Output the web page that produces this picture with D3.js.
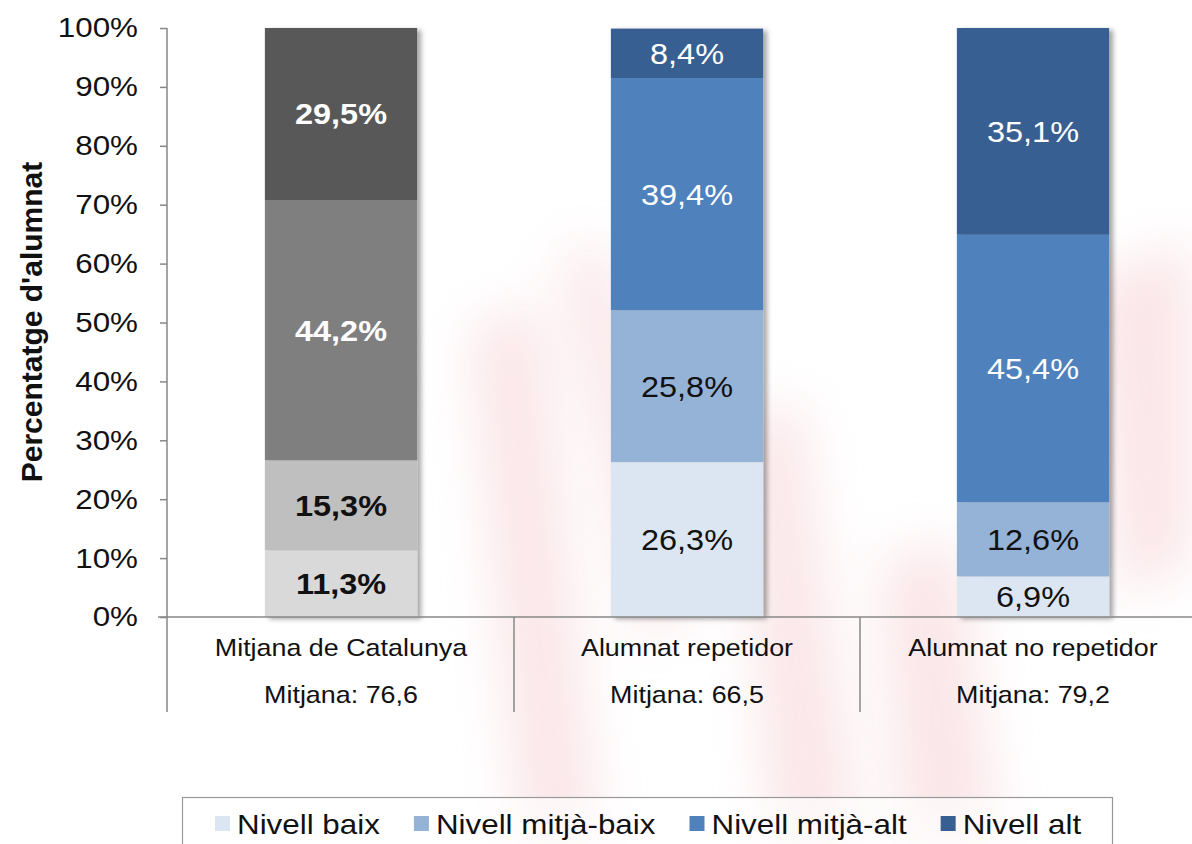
<!DOCTYPE html>
<html>
<head>
<meta charset="utf-8">
<script src="https://cdn.jsdelivr.net/npm/d3@7"></script>
<style>
  body { margin: 0; background: #fff; }
  svg { display: block; font-family: Arial, "Liberation Sans", sans-serif; }
</style>
</head>
<body>
<script>
// data
var categories = ["Mitjana de Catalunya", "Alumnat repetidor", "Alumnat no repetidor"];
var meanLabels = ["Mitjana: 76,6", "Mitjana: 66,5", "Mitjana: 79,2"];
var levels = ["Nivell baix", "Nivell mitjà-baix", "Nivell mitjà-alt", "Nivell alt"];
var nivellBaix = [11.3, 26.3, 6.9];
var nivellMitjaBaix = [15.3, 25.8, 12.6];
var nivellMitjaAlt = [44.2, 39.4, 45.4];
var nivellAlt = [29.5, 8.4, 35.1];
var yTicks = [0, 10, 20, 30, 40, 50, 60, 70, 80, 90, 100];

var blues = ["#dce6f2", "#95b3d7", "#4f81bd", "#385f91"];
var greys = ["#d9d9d9", "#bfbfbf", "#7f7f7f", "#595959"];
var darkText = [true, true, false, false]; // black labels on light segments

var W = 1192, H = 844;
var SX = 1.12; // the source picture is a bit wider than tall, text looks stretched

var svg = d3.select("body").append("svg").attr("width", W).attr("height", H);

// turn x/y of a text into a translate + horizontal stretch
function stretch(sel) {
  sel.each(function() {
    var t = d3.select(this);
    var tx = +t.attr("x") || 0, ty = +t.attr("y") || 0;
    t.attr("x", 0).attr("y", 0)
     .attr("transform", "translate(" + tx + "," + ty + ") scale(" + SX + ",1)");
  });
}

var defs = svg.append("defs");
var sh = defs.append("filter").attr("id", "shadow")
  .attr("x", "-10%").attr("y", "-5%").attr("width", "130%").attr("height", "115%");
sh.append("feDropShadow").attr("dx", 4).attr("dy", 2).attr("stdDeviation", 2.5)
  .attr("flood-color", "#000").attr("flood-opacity", 0.35);
defs.append("filter").attr("id", "blur").attr("x", "-50%").attr("y", "-50%")
  .attr("width", "200%").attr("height", "200%")
  .append("feGaussianBlur").attr("stdDeviation", 26);

// faint watermark in the background
var wm = svg.append("g").attr("filter", "url(#blur)").attr("opacity", 0.35);
[
  [[470, 330], [540, 300], [600, 844], [520, 844]],
  [[560, 250], [610, 250], [700, 600], [640, 640]],
  [[740, 420], [800, 400], [860, 844], [770, 844]],
  [[1090, 280], [1192, 240], [1192, 560], [1120, 600]],
  [[880, 560], [960, 540], [1000, 844], [900, 844]]
].forEach(function(p) {
  wm.append("path").attr("d", "M" + p.join("L") + "Z").attr("fill", "#f2b8bf");
});

var y = d3.scaleLinear().domain([0, 100]).range([617, 28]);
var x = d3.scaleBand().domain(categories).range([168, 1206]).padding(0);
var barW = x.bandwidth() * 0.44;

// table for the stack
var table = categories.map(function(c, i) {
  return { cat: c, "Nivell baix": nivellBaix[i], "Nivell mitjà-baix": nivellMitjaBaix[i],
           "Nivell mitjà-alt": nivellMitjaAlt[i], "Nivell alt": nivellAlt[i] };
});
var series = d3.stack().keys(levels)(table);

var fmt = function(v) { return d3.format(".1f")(v).replace(".", ",") + "%"; };

// bars
var bars = svg.append("g").attr("filter", "url(#shadow)");
series.forEach(function(s, k) {
  bars.selectAll(null).data(s).enter().append("rect")
    .attr("x", function(d) { return x(d.data.cat) + (x.bandwidth() - barW) / 2; })
    .attr("y", function(d) { return y(Math.min(d[1], 100)); })
    .attr("width", barW)
    .attr("height", function(d) { return y(d[0]) - y(Math.min(d[1], 100)); })
    .attr("fill", function(d, i) { return i == 0 ? greys[k] : blues[k]; });
});

// segment labels
series.forEach(function(s, k) {
  svg.append("g").selectAll("text").data(s).enter().append("text")
    .attr("x", function(d) { return x(d.data.cat) + x.bandwidth() / 2; })
    .attr("y", function(d) { return y((d[0] + Math.min(d[1], 100)) / 2); })
    .attr("dy", "0.36em")
    .attr("text-anchor", "middle")
    .attr("font-size", 29)
    .attr("font-weight", function(d, i) { return i == 0 ? "bold" : "normal"; })
    .attr("fill", darkText[k] ? "#111" : "#fff")
    .text(function(d) { return fmt(d[1] - d[0]); })
    .call(stretch);
});

// y axis
var axisCol = "#878787";
var yAxis = svg.append("g").attr("transform", "translate(167,0)")
  .call(d3.axisLeft(y).tickValues(yTicks).tickSize(7).tickPadding(22)
    .tickFormat(function(d) { return d + "%"; }));
yAxis.select(".domain").remove();
yAxis.selectAll(".tick line").attr("stroke", axisCol).attr("stroke-width", 1.5);
yAxis.selectAll(".tick text").attr("font-size", 28).attr("fill", "#111")
  .attr("font-family", "Arial, 'Liberation Sans', sans-serif")
  .call(stretch);
svg.append("line").attr("x1", 167).attr("x2", 167).attr("y1", 28).attr("y2", 712)
  .attr("stroke", axisCol).attr("stroke-width", 1.5);
svg.append("line").attr("x1", 158).attr("x2", W).attr("y1", 617).attr("y2", 617)
  .attr("stroke", axisCol).attr("stroke-width", 1.5);

// category separators and labels
svg.append("g").selectAll("line").data(categories.slice(1)).enter().append("line")
  .attr("x1", function(d) { return x(d); }).attr("x2", function(d) { return x(d); })
  .attr("y1", 617).attr("y2", 712)
  .attr("stroke", axisCol).attr("stroke-width", 1.5);
svg.append("g").selectAll("text").data(categories).enter().append("text")
  .attr("x", function(d) { return x(d) + x.bandwidth() / 2; })
  .attr("y", 656).attr("text-anchor", "middle").attr("font-size", 24).attr("fill", "#111")
  .text(function(d) { return d; })
  .call(stretch);
svg.append("g").selectAll("text").data(meanLabels).enter().append("text")
  .attr("x", function(d, i) { return x(categories[i]) + x.bandwidth() / 2; })
  .attr("y", 703).attr("text-anchor", "middle").attr("font-size", 24).attr("fill", "#111")
  .text(function(d) { return d; })
  .call(stretch);

// y axis title
svg.append("text")
  .attr("transform", "translate(42,322) rotate(-90)")
  .attr("text-anchor", "middle").attr("font-size", 30).attr("font-weight", "bold")
  .attr("fill", "#111")
  .text("Percentatge d'alumnat");

// legend
svg.append("rect").attr("x", 182.5).attr("y", 797.5).attr("width", 930).attr("height", 60)
  .attr("fill", "#fff").attr("fill-opacity", 0.6).attr("stroke", "#999").attr("stroke-width", 1.2);
var lx = 215;
levels.forEach(function(l, k) {
  var g = svg.append("g").attr("transform", "translate(" + lx + ",0)");
  g.append("rect").attr("x", 0).attr("y", 816).attr("width", 15).attr("height", 15).attr("fill", blues[k]);
  var t = g.append("text").attr("x", 22).attr("y", 834).attr("font-size", 28).attr("fill", "#111").text(l);
  var len = t.node().getComputedTextLength();
  t.call(stretch);
  lx += 22 + len * SX + 34;
});
</script>
</body>
</html>
